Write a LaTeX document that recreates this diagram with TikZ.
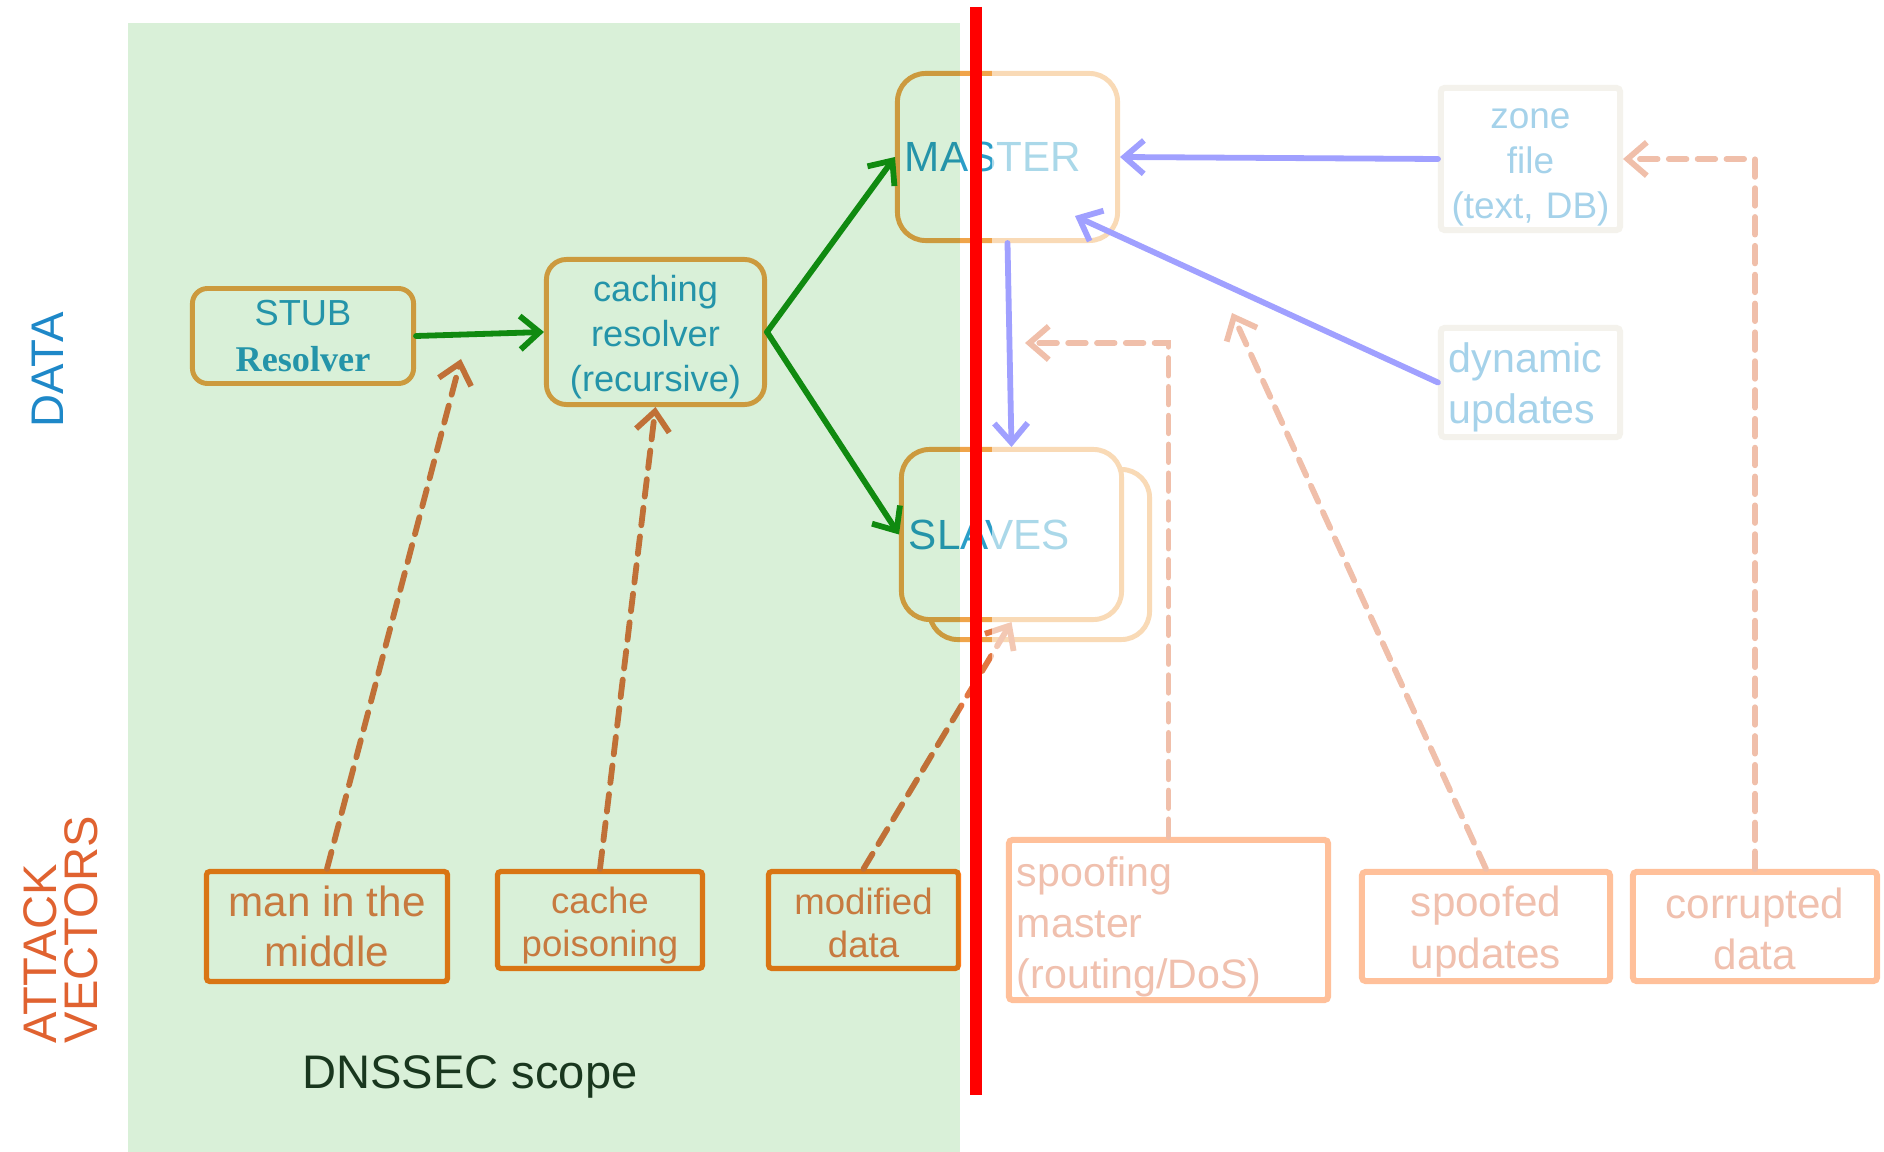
\documentclass[tikz,border=0pt]{standalone}
\usepackage{fontspec}
\setmainfont{Liberation Sans}
\newfontfamily\stubserif{Liberation Serif}
\usepackage{xcolor}
\usepackage{tikz}
\usetikzlibrary{arrows.meta,calc,positioning}

\definecolor{scopegreen}{HTML}{D9F0D8}
\definecolor{resborder}{HTML}{F0A44A}
\definecolor{restext}{HTML}{2B9EC8}
\definecolor{flowgreen}{HTML}{139313}
\definecolor{atkborder}{HTML}{FF7D18}
\definecolor{atktext}{HTML}{EB824B}
\definecolor{atkdash}{HTML}{E27742}
\definecolor{srcborder}{HTML}{F4F2EC}
\definecolor{srctext}{HTML}{A5D2EA}
\definecolor{srcflow}{HTML}{A0A0FF}
\definecolor{ratkborder}{HTML}{FFC09A}
\definecolor{ratktext}{HTML}{F0C0AE}
\definecolor{ratkdash}{HTML}{F0BFAA}
\definecolor{datablue}{HTML}{1E88C8}
\definecolor{atkred}{HTML}{E06230}
\definecolor{scopetext}{HTML}{19371E}

\tikzset{
  res_n/.style = {draw=resborder, line width=1.4pt, text=restext, align=center, inner sep=0pt},
  srv_n/.style = {res_n, fill=white, rounded corners=8pt, minimum width=2.2cm, text width=2.05cm, align=left, font=\fontsize{12}{14}\selectfont},
  src_n/.style = {draw=srcborder, line width=1.7pt, rounded corners=1pt, text=srctext, minimum width=1.79cm, inner sep=0pt},
  atk_l/.style = {draw=atkborder, line width=1.5pt, rounded corners=1pt, text=atktext, align=center, inner sep=0pt},
  atk_r/.style = {draw=ratkborder, line width=1.7pt, rounded corners=1pt, text=ratktext, inner sep=0pt},
  text_drop/.style = {execute at begin node={\rule{0pt}{#1}}},
  flow/.style = {line width=1.65pt, line cap=round, -{Straight Barb[length=5.5pt,width=9.5pt]}},
  atk_flow/.style = {flow, dash pattern=on 5pt off 3.2pt}
}

\begin{document}
\begin{tikzpicture}[x=0.01cm, y=-0.01cm]
\useasboundingbox (0,0) rectangle (1884,1152);

\node[srv_n, minimum height=1.67cm] (master) at (1007.5,157) {MASTER};
\node[srv_n, minimum height=1.70cm] (slaves_b) at (1039.5,554.5) {};
\node[srv_n, minimum height=1.70cm] (slaves) at (1011.5,534.5) {SLAVES};

\node[res_n, rounded corners=4.3pt, minimum width=2.21cm, minimum height=0.95cm,
      font=\fontsize{10.3}{13.1}\selectfont] (stub) at (303,336) {STUB\\{\stubserif\bfseries Resolver}};
\node[res_n, rounded corners=5.7pt, minimum width=2.18cm, minimum height=1.45cm, text width=2.0cm, text_drop=10.6pt,
      font=\fontsize{10.3}{12.8}\selectfont] (res) at (655.5,332) {caching\\resolver\\(recursive)};

\node[atk_l, minimum width=2.41cm, minimum height=1.10cm, font=\fontsize{12}{14.4}\selectfont] (mitm) at (327,926.5) {man in the\\middle};
\node[atk_l, minimum width=2.05cm, minimum height=0.97cm, text width=1.9cm, text_drop=10.5pt,
      font=\fontsize{10.4}{12.3}\selectfont] (poison) at (600,920) {cache\\poisoning};
\node[atk_l, minimum width=1.90cm, minimum height=0.97cm, text width=1.8cm, text_drop=9.2pt,
      font=\fontsize{10.4}{12.3}\selectfont] (moddata) at (863.5,920) {modified\\data};

\draw[flow, flowgreen] (stub.east) -- (res.west);
\draw[flow, flowgreen] (res.east) -- (master.west);
\draw[flow, flowgreen] (res.east) -- (slaves.west);
\coordinate (mitm_tip) at (461,359);
\draw[atk_flow, atkdash] (mitm.north) -- (mitm_tip);
\draw[atk_flow, atkdash] (poison.north) -- (res.south);
\draw[atk_flow, atkdash] (moddata.north) -- (slaves.south);

\fill[scopegreen, blend mode=multiply] (128,23) rectangle (960,1152);
\fill[white, opacity=0.6] (992,0) rectangle (1884,1152);

\node[src_n, align=center, minimum height=1.42cm, text width=1.6cm, text_drop=10.3pt,
      font=\fontsize{10.5}{12.8}\selectfont] (zone) at (1530.5,159) {zone\\file\\(text, DB)};
\node[src_n, minimum height=1.09cm, text width=1.63cm, align=left, text_drop=11.2pt,
      font=\fontsize{11.7}{14.4}\selectfont] (dyn) at (1530.5,382.5) {dynamic\\updates};

\node[atk_r, minimum width=3.19cm, minimum height=1.60cm, text width=3.03cm, align=left, text_drop=12.3pt,
      font=\fontsize{11.7}{14.5}\selectfont] (spoofm) at (1168.5,920) {spoofing\\master\\(routing/DoS)};
\node[atk_r, align=center, minimum width=2.48cm, minimum height=1.09cm, text width=2.3cm, text_drop=11.7pt,
      font=\fontsize{12}{14.7}\selectfont] (spoofu) at (1486,926.5) {spoofed\\updates};
\node[atk_r, align=center, minimum width=2.44cm, minimum height=1.09cm, text width=2.3cm, text_drop=10.1pt,
      font=\fontsize{12}{14.7}\selectfont] (corrupt) at (1755,926.5) {corrupted\\data};

\draw[flow, srcflow] (zone.west) -- (master.east);
\coordinate (dyn_tip) at (1075,216);
\draw[flow, srcflow] (dyn.west) -- (dyn_tip);
\draw[flow, srcflow] (master.south) -- (slaves.north);
\coordinate (spoofm_tip) at (1025,343);
\draw[atk_flow, ratkdash] (spoofm.north) |- (spoofm_tip);
\coordinate (spoofu_tip) at (1232,313);
\draw[atk_flow, ratkdash] (spoofu.north) -- (spoofu_tip);
\draw[atk_flow, ratkdash] (corrupt.north) |- (zone.east);

\draw[red, line width=3.4pt] (976,7) -- (976,1095);

\node[rotate=90, text=datablue, font=\fontsize{13}{15}\selectfont] (data_lbl) at (48,370) {DATA};
\node[rotate=90, anchor=south west, inner sep=0pt, align=left, text=atkred,
      font=\fontsize{13.4}{11.7}\selectfont] (atk_lbl) at (99,1044) {ATTACK\\VECTORS};
\node[anchor=base, text=scopetext, font=\fontsize{13.4}{16}\selectfont] (scope_lbl) at (470,1088) {DNSSEC scope};
\end{tikzpicture}
\end{document}
